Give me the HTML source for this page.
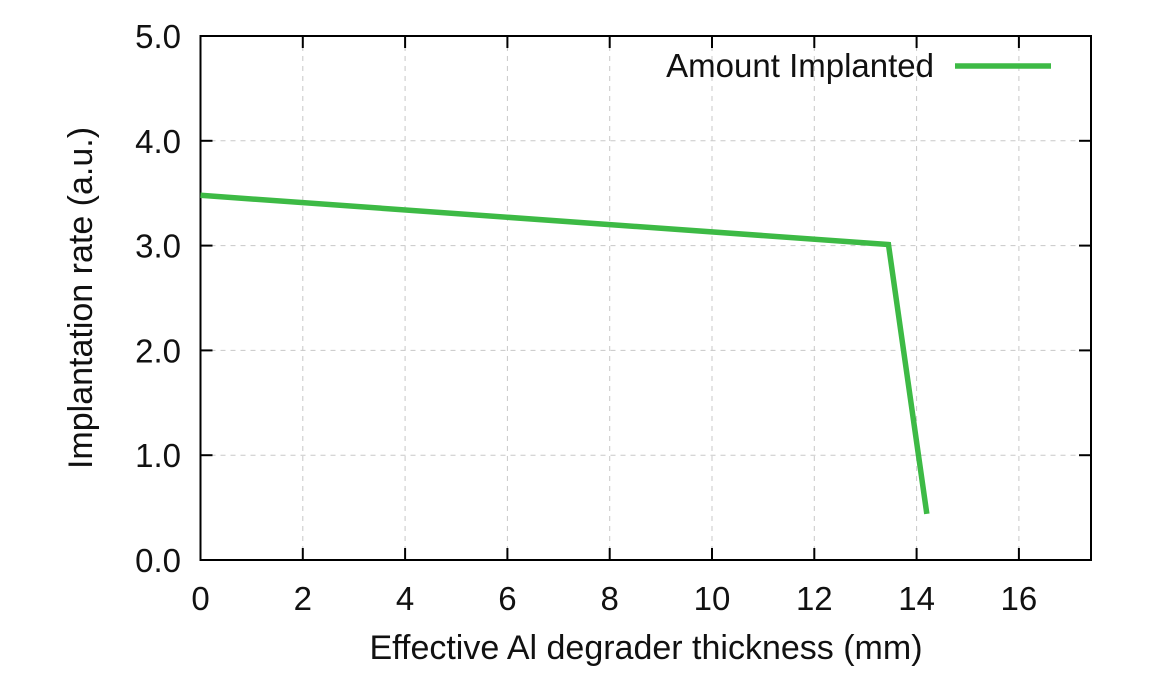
<!DOCTYPE html>
<html><head><meta charset="utf-8"><style>body{margin:0;background:#fff}svg{display:block;font-family:"Liberation Sans",sans-serif}</style></head>
<body>
<svg id="chart" width="1158" height="680" viewBox="0 0 1158 680"></svg>
<script>
const xs = [0, 13.45, 14.2];
const ys = [3.48, 3.01, 0.44];
const xTicks = [0, 2, 4, 6, 8, 10, 12, 14, 16];
const yTicks = [0, 1, 2, 3, 4, 5];
const yTickLabels = ["0.0", "1.0", "2.0", "3.0", "4.0", "5.0"];
const L=200.5,R=1091,T=36,B=560,YMAX=5;
const X=v=>L+v*51.15, Y=v=>B-v/YMAX*(B-T);
const svg=document.getElementById('chart'),NS='http://www.w3.org/2000/svg';
function mk(tag,attrs,parent,text){const e=document.createElementNS(NS,tag);for(const k in attrs)e.setAttribute(k,attrs[k]);if(text!==undefined)e.textContent=text;(parent||svg).appendChild(e);return e;}
const FS=33;
xTicks.forEach(t=>{const x=X(t);
 if(t>0){const g=mk('line',{x1:x,x2:x,y1:T,y2:B,stroke:'#c8c8c8','stroke-width':1,'stroke-dasharray':'5,5'});
 
 }
 mk('line',{x1:x,x2:x,y1:B,y2:B-12,stroke:'#000','stroke-width':2});
 mk('line',{x1:x,x2:x,y1:T,y2:T+12,stroke:'#000','stroke-width':2});
 const l=mk('text',{x:x,y:B+50,'text-anchor':'middle','font-size':FS,fill:'#111'},null,String(t));
 
 
});
yTicks.forEach((t,i)=>{const y=Y(t);
 if(t>0&&t<5){const g=mk('line',{x1:L,x2:R,y1:y,y2:y,stroke:'#c8c8c8','stroke-width':1,'stroke-dasharray':'5,5'});
 
 }
 mk('line',{x1:L,x2:L+12,y1:y,y2:y,stroke:'#000','stroke-width':2});
 mk('line',{x1:R,x2:R-12,y1:y,y2:y,stroke:'#000','stroke-width':2});
 const l=mk('text',{x:181,y:y+12,'text-anchor':'end','font-size':FS,fill:'#111'},null,yTickLabels[i]);
 
 
});
const frame=mk('rect',{x:L,y:T,width:R-L,height:B-T,fill:'none',stroke:'#000','stroke-width':2});


const pts=xs.map((v,i)=>X(v)+','+Y(ys[i])).join(' ');
const line=mk('polyline',{points:pts,fill:'none',stroke:'#3dba45','stroke-width':5.5,'stroke-linejoin':'miter'});


const lt=mk('text',{x:934,y:77,'text-anchor':'end','font-size':FS,fill:'#111'},null,'Amount Implanted');


const ll=mk('line',{x1:955,x2:1051,y1:66,y2:66,stroke:'#3dba45','stroke-width':5.5});


const xt=mk('text',{x:646,y:659,'text-anchor':'middle','font-size':34,fill:'#111'},null,'Effective Al degrader thickness (mm)');


const yt=mk('text',{x:0,y:0,'text-anchor':'middle','font-size':34,fill:'#111',transform:'translate(92,298) rotate(-90)'},null,'Implantation rate (a.u.)');


</script>
</body></html>
